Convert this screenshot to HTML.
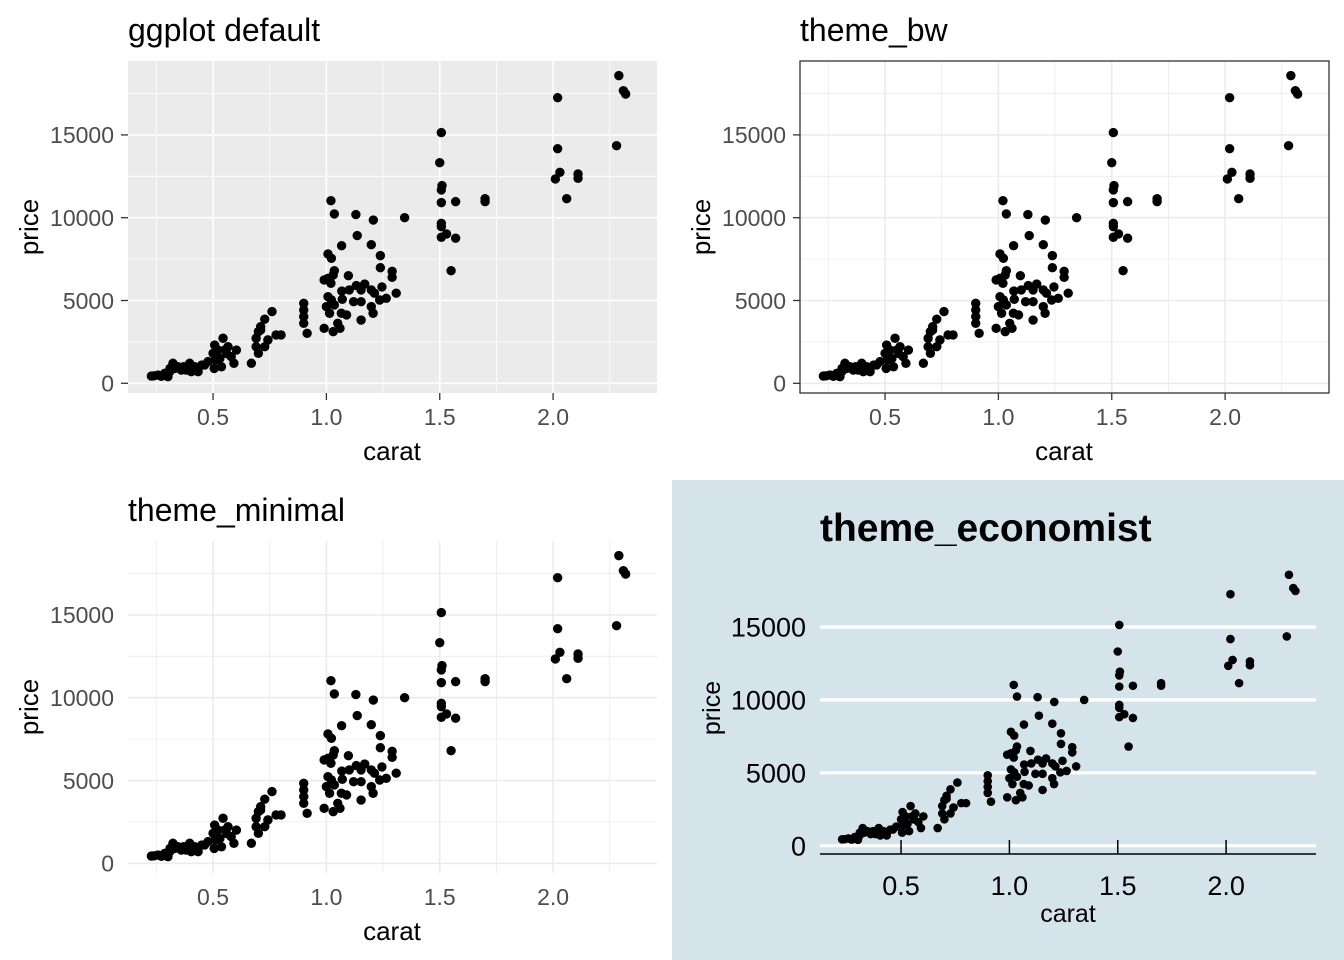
<!DOCTYPE html>
<html><head><meta charset="utf-8">
<style>
html,body{margin:0;padding:0;background:#fff;}
svg{display:block;font-family:"Liberation Sans",Arial,sans-serif;}
</style></head>
<body>
<svg id="chart" width="1344" height="960" viewBox="0 0 1344 960" xmlns="http://www.w3.org/2000/svg">
<rect x="672" y="480" width="672" height="480" fill="#D5E4EB"/>
</svg>
<script>
const carat = [2.29,2.31,2.32,2.28,2.02,2.02,2.03,2.01,2.11,2.11,2.06,1.507,1.50,1.51,1.507,1.507,1.57,1.70,1.70,1.507,1.507,1.507,1.53,1.57,1.55,1.345,
1.02,1.035,1.13,1.207,1.136,1.067,1.198,1.238,1.007,1.022,1.238,1.29,1.29,1.035,1.03,1.007,0.99,1.02,1.097,1.132,1.169,1.198,1.245,1.068,1.101,1.153,1.212,1.308,1.264,1.235,
1.007,1.022,1.0,1.035,1.07,1.12,1.153,1.198,1.206,1.089,1.066,1.014,1.153,0.99,1.03,1.06,1.05,
0.90,0.90,0.90,0.90,0.915,0.76,0.728,0.71,0.70,0.69,0.69,0.70,0.728,0.742,0.71,0.742,0.778,0.80,0.669,
0.507,0.50,0.51,0.505,0.544,0.566,0.551,0.537,0.58,0.592,0.603,0.478,0.522,
0.228,0.257,0.287,0.301,0.323,0.331,0.36,0.397,0.404,0.434,0.463,0.272,0.345,0.382,0.309,0.419,0.24,0.31,0.37,0.45,0.53,0.56];
const price = [18580,17670,17470,14350,17250,14170,12740,12340,12640,12380,11150,15140,13320,11940,11680,10910,10970,11150,10970,9660,9460,8820,9020,8760,6800,10000,
11030,10230,10190,9860,8920,8310,8370,7710,7810,7550,6980,6760,6400,6800,6540,6340,6240,6040,6500,5900,5990,5640,5820,5570,5640,5640,5440,5440,5130,5030,
5230,5030,4630,4730,5070,4930,4930,4630,4230,4130,4230,4230,3820,3320,3120,3320,3620,
4830,4430,4030,3620,3020,4330,3870,3420,3120,2720,2210,1810,2210,2620,3220,2620,2920,2920,1210,
2310,1810,1410,900,2720,2210,2010,1000,1610,1210,2010,1310,2010,
440,500,600,400,1210,900,800,1210,700,700,1110,420,1000,800,700,1000,450,900,1000,1100,1500,1800];
const yTicks = [0,5000,10000,15000];
const yMinor = [2500,7500,12500,17500];
const xTicks = [0.5,1.0,1.5,2.0];
const xTickLabels = ["0.5","1.0","1.5","2.0"];
const xMinor = [0.25,0.75,1.25,1.75,2.25];
const yTickLabels = ["0","5000","10000","15000"];

const svg = document.getElementById('chart');
const NS = 'http://www.w3.org/2000/svg';
function mk(tag, attrs, parent){
  const e = document.createElementNS(NS, tag);
  for (const k in attrs) e.setAttribute(k, attrs[k]);
  (parent||svg).appendChild(e);
  return e;
}

function panel(cfg){
  const g = mk('g', {});
  
  
  const L=cfg.L,R=cfg.R,T=cfg.T,B=cfg.B;
  const sx = c => cfg.x0 + c*cfg.kx;
  const sy = p => cfg.y0 - p*cfg.ky;
  if (cfg.bg) {
    const bg = mk('rect', {x:L,y:T,width:R-L,height:B-T,fill:cfg.bg}, g);
    
    
  }
  if (cfg.grid) {
    xMinor.forEach(v => { const l = mk('line',{x1:sx(v),x2:sx(v),y1:T,y2:B,stroke:cfg.grid,'stroke-width':0.8},g);
        });
    yMinor.forEach(v => { const l = mk('line',{x1:L,x2:R,y1:sy(v),y2:sy(v),stroke:cfg.grid,'stroke-width':0.8},g);
        });
    xTicks.forEach(v => { const l = mk('line',{x1:sx(v),x2:sx(v),y1:T,y2:B,stroke:cfg.grid,'stroke-width':1.6},g);
        });
  }
  if (cfg.econ) {
    yTicks.forEach(v => { const l = mk('line',{x1:L,x2:R,y1:sy(v),y2:sy(v),stroke:'#fff','stroke-width':3.2},g);
        });
  } else if (cfg.grid) {
    yTicks.forEach(v => { const l = mk('line',{x1:L,x2:R,y1:sy(v),y2:sy(v),stroke:cfg.grid,'stroke-width':1.6},g);
        });
  }
  carat.forEach((c,i) => {
    const d = mk('circle',{cx:sx(c),cy:sy(price[i]),r:cfg.r,fill:'#000'},g);
    
    
  });
  if (cfg.border) {
    const b = mk('rect',{x:L,y:T,width:R-L,height:B-T,fill:'none',stroke:'#333','stroke-width':1.3},g);
     
  }
  if (cfg.ticks) {
    yTicks.forEach(v => { const l = mk('line',{x1:L-7,x2:L,y1:sy(v),y2:sy(v),stroke:'#333','stroke-width':1.3},g);
        });
    xTicks.forEach(v => { const l = mk('line',{x1:sx(v),x2:sx(v),y1:B,y2:B+7,stroke:'#333','stroke-width':1.3},g);
        });
  }
  if (cfg.econ) {
    const ax = mk('line',{x1:L,x2:R,y1:cfg.axisY,y2:cfg.axisY,stroke:'#000','stroke-width':1.5},g);
     
    xTicks.forEach(v => { const l = mk('line',{x1:sx(v),x2:sx(v),y1:cfg.axisY-14,y2:cfg.axisY,stroke:'#000','stroke-width':1.5},g);
        });
  }
  yTicks.forEach((v,i) => {
    const t = mk('text',{x:cfg.ylx,y:sy(v)+cfg.fs*0.36,'text-anchor':'end','font-size':cfg.fs,fill:cfg.tc},g);
    t.textContent = yTickLabels[i];
     
  });
  xTicks.forEach((v,i) => {
    const t = mk('text',{x:sx(v),y:cfg.xly,'text-anchor':'middle','font-size':cfg.fs,fill:cfg.tc},g);
    t.textContent = xTickLabels[i];
     
  });
  const xt = mk('text',{x:cfg.xtx,y:cfg.xty,'text-anchor':'middle','font-size':cfg.afs,fill:'#000'},g);
  xt.textContent = 'carat';
   
  const yt = mk('text',{x:0,y:0,'text-anchor':'middle','font-size':cfg.afs,fill:'#000',transform:`translate(${cfg.ytx},${cfg.yty}) rotate(-90)`},g);
  yt.textContent = 'price';
   
  const tt = mk('text',{x:cfg.tx,y:cfg.ty,'font-size':cfg.tfs,fill:'#000','font-weight':cfg.tw||'normal'},g);
  tt.textContent = cfg.title;
   
}

const base = {kx:226.7, ky:82.8/5000, r:4.7, fs:23, afs:26, tfs:32, tc:'#4D4D4D'};
panel(Object.assign({}, base, {name:'ggplot-default', title:'ggplot default', L:128,R:657,T:61,B:393, x0:99.7, y0:383.3,
  bg:'#EBEBEB', grid:'#FFFFFF', ticks:true, ylx:114, xly:425, xtx:392, xty:460, ytx:38, yty:227, tx:128, ty:41}));
panel(Object.assign({}, base, {name:'theme-bw', title:'theme_bw', L:800,R:1329,T:61,B:393, x0:771.7, y0:383.3,
  bg:'#FFFFFF', grid:'#EBEBEB', ticks:true, border:true, ylx:786, xly:425, xtx:1064, xty:460, ytx:710, yty:227, tx:800, ty:41}));
panel(Object.assign({}, base, {name:'theme-minimal', title:'theme_minimal', L:128,R:657,T:541,B:873, x0:99.7, y0:863.3,
  bg:null, grid:'#EBEBEB', ticks:false, ylx:114, xly:905, xtx:392, xty:940, ytx:38, yty:707, tx:128, ty:521}));
panel({name:'theme-economist', title:'theme_economist', L:820,R:1316,T:560,B:854, x0:792.7, kx:216.7, y0:845.7, ky:72.9/5000, r:4.3,
  fs:27, afs:25, tfs:39, tw:'bold', tc:'#000', econ:true, axisY:854, ylx:806, xly:895, xtx:1068, xty:922, ytx:720, yty:708, tx:820, ty:541});
</script>
</body></html>
